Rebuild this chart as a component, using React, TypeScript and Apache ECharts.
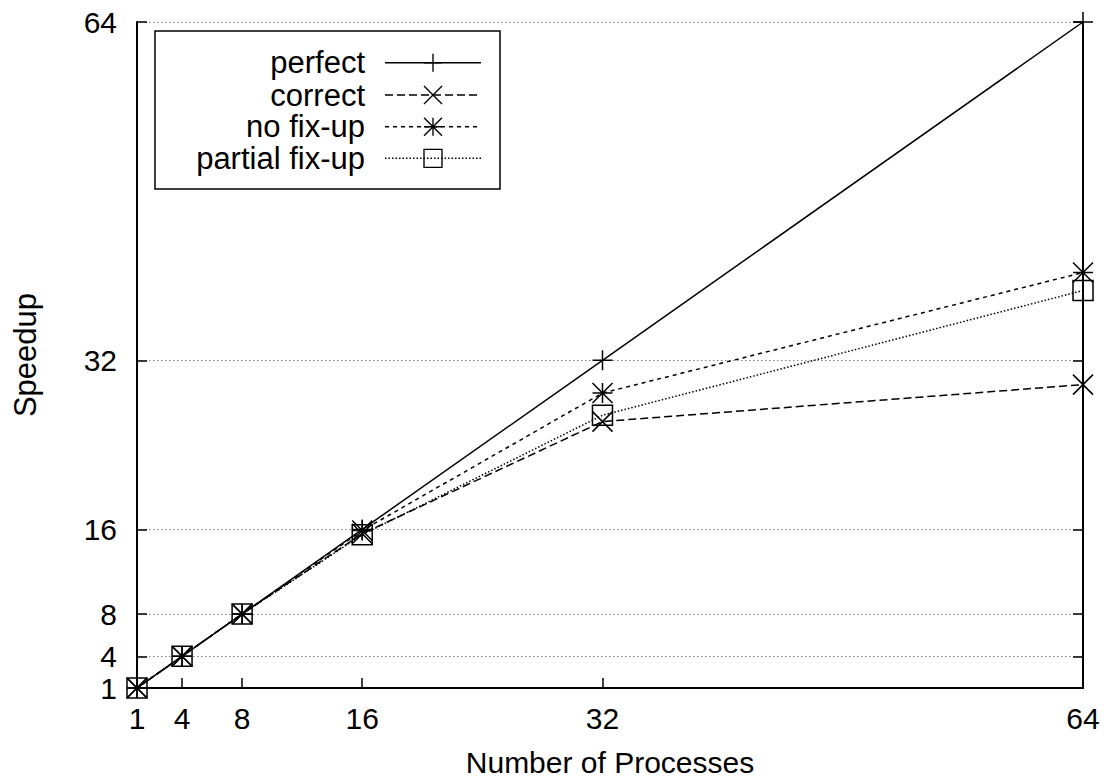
import React, { useEffect, useRef } from "react";
import * as echarts from "echarts";

const processes = [1, 4, 8, 16, 32, 64];
const perfect = [1, 4, 8, 16, 32, 64];
const correct = [1, 4, 8, 15.6, 26.2, 29.7];
const noFixUp = [1, 4, 8, 15.9, 28.9, 40.3];
const partialFixUp = [1, 4, 8, 15.5, 26.8, 38.6];
const tickValues = [1, 4, 8, 16, 32, 64];
const rightTickValues = [4, 8, 16, 32, 64];
const seriesNames = ["perfect", "correct", "no fix-up", "partial fix-up"];

const PLUS = "M-10,0L10,0M0,-10L0,10";
const CROSS = "M-10,-10L10,10M-10,10L10,-10";
const STAR = "M-10,0L10,0M0,-10L0,10M-10,-10L10,10M-10,10L10,-10";
const SQUARE = "M-10,-10L10,-10L10,10L-10,10Z";

const shapePaths = [PLUS, CROSS, STAR, SQUARE];
const dashes: (number[] | null)[] = [null, [8, 4], [4, 4], [1.5, 2]];

let registered = false;
function registerShapes() {
  if (registered) return;
  registered = true;
  shapePaths.forEach((d, i) => {
    echarts.graphic.registerShape("mk" + i, echarts.graphic.extendPath(d, {}));
  });
}

const FONT = "Liberation Sans, Arial, sans-serif";
const FS = 31;
const TFS = 30;

export default function App() {
  const ref = useRef<HTMLDivElement>(null);
  useEffect(() => {
    registerShapes();
    const chart = echarts.init(ref.current!, null, { renderer: "svg" });
    const datasets = [perfect, correct, noFixUp, partialFixUp];
    const series = datasets.map((vals, i) => ({
      name: seriesNames[i],
      type: "line",
      clip: false,
      data: processes.map((p, j) => [p, vals[j]]),
      symbol: "path://" + shapePaths[i],
      symbolSize: 20,
      itemStyle: { color: "none", borderColor: "#000", borderWidth: 1.5 },
      lineStyle: {
        color: "#000",
        width: 1.5,
        type: dashes[i] ? dashes[i] : "solid",
      },
      emphasis: { disabled: true },
      z: 3,
    }));

    const legendTop = 31;
    const rowY = [62.7, 95, 126.7, 158.3];
    const legendChildren: any[] = [
      {
        type: "rect",
        shape: { x: 155, y: legendTop, width: 345, height: 158 },
        style: { fill: "#fff", stroke: "#000", lineWidth: 1.5 },
      },
    ];
    seriesNames.forEach((n, i) => {
      legendChildren.push({
        type: "text",
        x: 365,
        y: rowY[i],
        style: {
          text: n,
          fontSize: FS,
          fontFamily: FONT,
          fill: "#000",
          align: "right",
          verticalAlign: "middle",
        },
      });
      legendChildren.push({
        type: "line",
        shape: { x1: 385, y1: rowY[i], x2: 481, y2: rowY[i] },
        style: {
          stroke: "#000",
          lineWidth: 1.5,
          lineDash: dashes[i] ? dashes[i] : null,
        },
      });
      legendChildren.push({
        type: "mk" + i,
        x: 433,
        y: rowY[i],
        scaleX: 0.9,
        scaleY: 0.9,
        style: { stroke: "#000", fill: "none", lineWidth: 1.5 },
      });
    });

    chart.setOption({
      animation: false,
      backgroundColor: "#fff",
      textStyle: { fontFamily: FONT },
      grid: {
        left: 137,
        right: 25,
        top: 22,
        bottom: 92,
        containLabel: false,
        outerBoundsMode: "none",
      },
      xAxis: {
        type: "value",
        min: 1,
        max: 64,
        name: "Number of Processes",
        nameLocation: "middle",
        nameGap: 59,
        nameTextStyle: { fontSize: TFS, color: "#000", fontFamily: FONT },
        axisLine: { show: true, onZero: false, lineStyle: { color: "#000", width: 2 } },
        axisTick: {
          show: true,
          inside: true,
          length: 10,
          customValues: tickValues,
          lineStyle: { color: "#000", width: 1.5 },
        },
        axisLabel: {
          customValues: tickValues,
          fontSize: TFS,
          color: "#000",
          margin: 15,
          fontFamily: FONT,
        },
        splitLine: { show: false },
      },
      yAxis: [
        {
          type: "value",
          min: 1,
          max: 64,
          name: "Speedup",
          nameLocation: "middle",
          nameRotate: 90,
          nameGap: 96,
          nameTextStyle: { fontSize: FS, color: "#000", fontFamily: FONT },
          axisLine: { show: true, onZero: false, lineStyle: { color: "#000", width: 2 } },
          axisTick: {
            show: true,
            inside: true,
            length: 10,
            customValues: tickValues,
            lineStyle: { color: "#000", width: 1.5 },
          },
          axisLabel: {
            customValues: tickValues,
            fontSize: TFS,
            color: "#000",
            margin: 20,
            fontFamily: FONT,
          },
          splitLine: {
            show: true,
            lineStyle: { color: "#888", width: 1, type: [1.5, 2.5] },
          },
        },
        {
          type: "value",
          min: 1,
          max: 64,
          position: "right",
          axisLine: { show: true, onZero: false, lineStyle: { color: "#000", width: 2 } },
          axisTick: {
            show: true,
            inside: true,
            length: 10,
            customValues: rightTickValues,
            lineStyle: { color: "#000", width: 1.5 },
          },
          axisLabel: { show: false, customValues: rightTickValues },
          splitLine: { show: false },
        },
      ],
      series,
      graphic: [{ type: "group", children: legendChildren, z: 100 }],
    });
    return () => chart.dispose();
  }, []);
  return (
    <div
      ref={ref}
      style={{ position: "absolute", left: 0, top: 0, width: 1108, height: 780 }}
    />
  );
}
